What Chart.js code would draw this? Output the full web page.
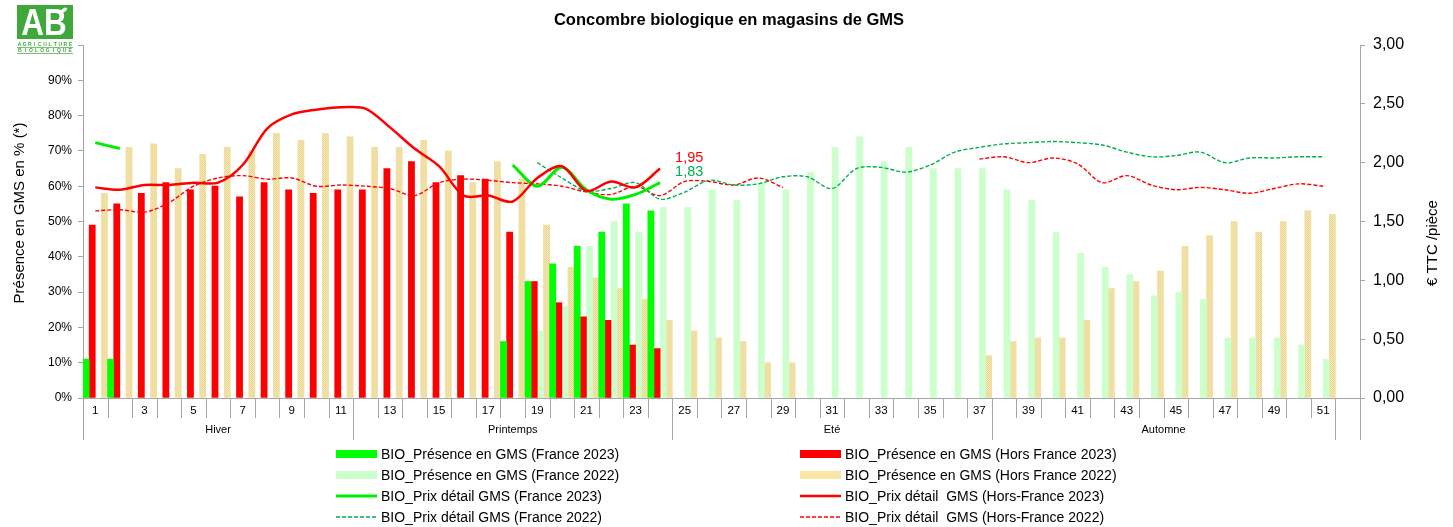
<!DOCTYPE html>
<html lang="fr">
<head>
  <meta charset="UTF-8">
  <title>Concombre biologique en magasins de GMS</title>
  <script src="https://cdn.jsdelivr.net/npm/chart.js@4.4.1/dist/chart.umd.min.js"></script>
  <style>
    html, body { margin: 0; padding: 0; background: #ffffff; }
    #wrap { position: relative; width: 1453px; height: 527px; }
  </style>
</head>
<body>
<div id="wrap"><canvas id="gmsChart"></canvas></div>
<script>
  const _ = null;

  // semaines 1..52
  const weeks = [1, 2, 3, 4, 5, 6, 7, 8, 9, 10, 11, 12, 13, 14, 15, 16, 17, 18, 19, 20, 21, 22, 23, 24, 25, 26,
                 27, 28, 29, 30, 31, 32, 33, 34, 35, 36, 37, 38, 39, 40, 41, 42, 43, 44, 45, 46, 47, 48, 49, 50, 51, 52];

  const seasonNames = ['Hiver', 'Printemps', 'Eté', 'Automne'];
  const seasonFirstWeek = [1, 12, 25, 38];
  const seasonLastWeek = [11, 24, 37, 51];

  // présence en GMS (%)
  const presenceFr2023 = [11, 11, _, _, _, _, _, _, _, _, _, _, _, _, _, _, _, 16, 33, 38, 43, 47, 55, 53, _, _,
                          _, _, _, _, _, _, _, _, _, _, _, _, _, _, _, _, _, _, _, _, _, _, _, _, _, _];
  const presenceHF2023 = [49, 55, 58, 61, 59, 60, 57, 61, 59, 58, 59, 59, 65, 67, 61, 63, 62, 47, 33, 27, 23, 22, 15, 14, _, _,
                          _, _, _, _, _, _, _, _, _, _, _, _, _, _, _, _, _, _, _, _, _, _, _, _, _, _];
  const presenceFr2022 = [_, _, _, _, _, _, _, _, _, _, _, _, _, _, _, _, _, _, 19, 26, 43, 50, 47, 54, 54, 59,
                          56, 61, 59, 64, 71, 74, 67, 71, 65, 65, 65, 59, 56, 47, 41, 37, 35, 29, 30, 28, 17, 17, 17, 15, 11, _];
  const presenceHF2022 = [58, 71, 72, 65, 69, 71, 70, 75, 73, 75, 74, 71, 71, 73, 70, 61, 67, 62, 49, 37, 34, 31, 28, 22, 19, 17,
                          16, 10, 10, _, _, _, _, _, _, _, 12, 16, 17, 17, 22, 31, 33, 36, 43, 46, 50, 47, 50, 53, 52, _];

  // prix détail (€ TTC / pièce)
  const priceFr2023 = [2.17, 2.12, _, _, _, _, _, _, _, _, _, _, _, _, _, _, _, 1.98, 1.80, 1.96, 1.77, 1.69, 1.73, 1.83, _, _,
                       _, _, _, _, _, _, _, _, _, _, _, _, _, _, _, _, _, _, _, _, _, _, _, _, _, _];
  const priceHF2023 = [1.79, 1.77, 1.81, 1.81, 1.83, 1.83, 1.98, 2.29, 2.41, 2.45, 2.47, 2.46, 2.30, 2.12, 1.97, 1.72, 1.72, 1.67,
                       1.87, 1.97, 1.76, 1.84, 1.79, 1.95, _, _, _, _, _, _, _, _, _, _, _, _, _, _, _, _, _, _, _, _, _, _, _, _, _, _, _, _];
  const priceFr2022 = [_, _, _, _, _, _, _, _, _, _, _, _, _, _, _, _, _, _, 2.00, 1.87, 1.76, 1.78, 1.83, 1.69, 1.75, 1.85,
                       1.81, 1.82, 1.88, 1.88, 1.78, 1.95, 1.96, 1.92, 1.98, 2.09, 2.13, 2.16, 2.17, 2.18, 2.17, 2.15, 2.09,
                       2.05, 2.06, 2.09, 2.00, 2.04, 2.04, 2.05, 2.05, _];
  const priceHF2022 = [1.59, 1.60, 1.58, 1.66, 1.80, 1.87, 1.89, 1.86, 1.87, 1.80, 1.81, 1.80, 1.78, 1.72, 1.83, 1.86, 1.85, 1.83,
                       1.82, 1.80, 1.75, 1.73, 1.80, 1.72, 1.84, 1.84, 1.81, 1.87, 1.79, _, _, _, _, _, _, _,
                       2.03, 2.05, 2.00, 2.04, 1.99, 1.83, 1.89, 1.81, 1.77, 1.79, 1.77, 1.74, 1.78, 1.82, 1.80, _];

  const FONT = 'Arial, "Liberation Sans", sans-serif';
  const GREY = '#a6a6a6';
  const GREEN_DARK = '#00b050';

  // dotted beige fill like the excel pattern (soft)
  function beigePattern() {
    const c = document.createElement('canvas');
    c.width = 2; c.height = 2;
    const g = c.getContext('2d');
    g.fillStyle = '#f5e6b0';
    g.fillRect(0, 0, 2, 2);
    g.fillStyle = '#ecd896';
    g.fillRect(0, 0, 1, 1);
    g.fillRect(1, 1, 1, 1);
    return g.createPattern(c, 'repeat');
  }
  const BEIGE = beigePattern();
  const BEIGE_LEGEND = '#fbe5a6';

  const legendRows = [[0, 1], [2, 3], [4, 5], [6, 7]];
  const endLabels = [
    { dataset: 5, color: '#ff0000' },
    { dataset: 4, color: GREEN_DARK }
  ];

  function crisp(v) { return Math.round(v) + 0.5; }

  function weekLeftEdge(scale, w) {
    const step = scale.getPixelForValue(1) - scale.getPixelForValue(0);
    return scale.getPixelForValue(w - 1) - step / 2;
  }

  function strokeLine(ctx, x1, y1, x2, y2) {
    ctx.beginPath();
    ctx.moveTo(x1, y1);
    ctx.lineTo(x2, y2);
    ctx.stroke();
  }

  function drawLogo(ctx) {
    ctx.save();
    ctx.fillStyle = '#3ea83a';
    ctx.fillRect(17, 5, 56, 34);
    ctx.fillStyle = '#ffffff';
    ctx.font = 'bold 30px ' + FONT;
    ctx.textAlign = 'center';
    ctx.textBaseline = 'alphabetic';
    ctx.save();
    ctx.translate(44, 35);
    ctx.scale(1.05, 1.2);
    ctx.fillText('AB', 0, 0);
    ctx.restore();
    // petite feuille
    ctx.beginPath();
    ctx.ellipse(64, 10, 3.5, 1.8, -0.6, 0, Math.PI * 2);
    ctx.fill();
    ctx.fillStyle = '#3ea83a';
    ctx.font = 'bold 5px ' + FONT;
    ['AGRICULTURE', 'BIOLOGIQUE'].forEach((word, r) => {
      const step = 56 / word.length;
      for (let k = 0; k < word.length; k++) {
        ctx.fillText(word[k], 17 + step * (k + 0.5), 46 + r * 6);
      }
    });
    ctx.strokeStyle = '#3ea83a';
    ctx.lineWidth = 0.7;
    strokeLine(ctx, 17, 47.5, 73, 47.5);
    strokeLine(ctx, 17, 53.5, 73, 53.5);
    ctx.restore();
  }

  const gmsDecor = {
    id: 'gmsDecor',
    afterDatasetsDraw(chart) {
      const ctx = chart.ctx;
      ctx.save();
      ctx.font = '14.5px ' + FONT;
      ctx.textAlign = 'left';
      ctx.textBaseline = 'middle';
      endLabels.forEach(lbl => {
        const data = chart.data.datasets[lbl.dataset].data;
        let i = data.length - 1;
        while (i >= 0 && data[i] == null) i--;
        const pt = chart.getDatasetMeta(lbl.dataset).data[i];
        ctx.fillStyle = lbl.color;
        ctx.fillText(data[i].toFixed(2).replace('.', ','), pt.x + 15, pt.y - 11);
      });
      ctx.restore();
    },
    afterDraw(chart) {
      const ctx = chart.ctx;
      const x = chart.scales.x;
      const area = chart.chartArea;
      ctx.save();

      // séparateurs semaines
      ctx.strokeStyle = GREY;
      ctx.lineWidth = 1;
      for (let w = 2; w <= weeks.length; w++) {
        const px = crisp(weekLeftEdge(x, w));
        strokeLine(ctx, px, area.bottom, px, area.bottom + 20);
      }
      // saisons
      ctx.fillStyle = '#000000';
      ctx.font = '11px ' + FONT;
      ctx.textAlign = 'center';
      ctx.textBaseline = 'middle';
      seasonNames.forEach((name, s) => {
        const left = weekLeftEdge(x, seasonFirstWeek[s]);
        const right = weekLeftEdge(x, seasonLastWeek[s] + 1);
        strokeLine(ctx, crisp(left), area.bottom, crisp(left), area.bottom + 42);
        strokeLine(ctx, crisp(right), area.bottom, crisp(right), area.bottom + 42);
        ctx.fillText(name, (left + right) / 2, area.bottom + 32);
      });
      strokeLine(ctx, crisp(area.right), area.bottom, crisp(area.right), area.bottom + 42);

      // titres
      ctx.font = 'bold 16.5px ' + FONT;
      ctx.fillText('Concombre biologique en magasins de GMS', 729, 20);

      ctx.font = '15px ' + FONT;
      ctx.save();
      ctx.translate(20, 213);
      ctx.rotate(-Math.PI / 2);
      ctx.fillText('Présence en GMS en % (*)', 0, 0);
      ctx.restore();
      ctx.save();
      ctx.translate(1433, 243);
      ctx.rotate(-Math.PI / 2);
      ctx.fillText('€ TTC /pièce', 0, 0);
      ctx.restore();

      // légende
      ctx.font = '14px ' + FONT;
      ctx.textAlign = 'left';
      const colSwatch = [336, 800];
      legendRows.forEach((row, r) => {
        const cy = 454 + r * 21;
        row.forEach((di, c) => {
          const ds = chart.data.datasets[di];
          const sx = colSwatch[c];
          if (ds.type === 'line') {
            ctx.strokeStyle = ds.borderColor;
            ctx.lineWidth = ds.borderWidth;
            ctx.setLineDash(ds.borderDash || []);
            strokeLine(ctx, sx, cy, sx + 41, cy);
            ctx.setLineDash([]);
          } else {
            ctx.fillStyle = ds.backgroundColor === BEIGE ? BEIGE_LEGEND : ds.backgroundColor;
            ctx.fillRect(sx, cy - 4, 41, 8);
          }
          ctx.fillStyle = '#000000';
          ctx.fillText(ds.label, sx + 45, cy + 1);
        });
      });

      drawLogo(ctx);
      ctx.restore();
    }
  };

  const lineBase = { type: 'line', yAxisID: 'y1', pointRadius: 0, fill: false, spanGaps: false, tension: 0.32 };

  new Chart(document.getElementById('gmsChart'), {
    data: {
      labels: weeks,
      datasets: [
        { type: 'bar', label: 'BIO_Présence en GMS (France 2023)', data: presenceFr2023, backgroundColor: '#00ff00', yAxisID: 'y', order: 5 },
        { type: 'bar', label: 'BIO_Présence en GMS (Hors France 2023)', data: presenceHF2023, backgroundColor: '#ff0000', yAxisID: 'y', order: 5 },
        { type: 'bar', label: 'BIO_Présence en GMS (France 2022)', data: presenceFr2022, backgroundColor: '#ccffcc', yAxisID: 'y', order: 5 },
        { type: 'bar', label: 'BIO_Présence en GMS (Hors France 2022)', data: presenceHF2022, backgroundColor: BEIGE, yAxisID: 'y', order: 5 },
        { ...lineBase, label: 'BIO_Prix détail GMS (France 2023)', data: priceFr2023, borderColor: '#00ee00', borderWidth: 3, order: 1 },
        { ...lineBase, label: 'BIO_Prix détail  GMS (Hors-France 2023)', data: priceHF2023, borderColor: '#ff0000', borderWidth: 2.5, order: 0 },
        { ...lineBase, label: 'BIO_Prix détail GMS (France 2022)', data: priceFr2022, borderColor: GREEN_DARK, borderWidth: 1.4, borderDash: [4, 2], order: 2 },
        { ...lineBase, label: 'BIO_Prix détail  GMS (Hors-France 2022)', data: priceHF2022, borderColor: '#ff0000', borderWidth: 1.4, borderDash: [4, 2], order: 2 }
      ]
    },
    options: {
      responsive: true,
      maintainAspectRatio: false,
      animation: false,
      datasets: { bar: { barPercentage: 1, categoryPercentage: 1 } },
      layout: { padding: { top: 45, bottom: 87, left: 0, right: 0 } },
      plugins: {
        legend: { display: false },
        title: { display: false },
        tooltip: { enabled: false }
      },
      scales: {
        x: {
          type: 'category',
          afterFit(scale) { scale.height = 42; },
          grid: { display: false, drawTicks: false },
          border: { display: true, color: GREY },
          ticks: {
            autoSkip: false,
            maxRotation: 0,
            padding: 6,
            color: '#000000',
            font: { family: FONT, size: 11.5 },
            callback(v, i) { return weeks[i] % 2 === 1 ? String(weeks[i]) : ''; }
          }
        },
        y: {
          position: 'left',
          min: 0,
          max: 100,
          afterFit(scale) { scale.width = 83; },
          grid: { drawOnChartArea: false, color: GREY, tickLength: 5 },
          border: { display: true, color: GREY },
          ticks: {
            stepSize: 10,
            padding: 6,
            color: '#000000',
            font: { family: FONT, size: 12 },
            callback(v) { return v >= 100 ? '' : v + '%'; }
          }
        },
        y1: {
          position: 'right',
          min: 0,
          max: 3,
          afterFit(scale) { scale.width = 93; },
          grid: { drawOnChartArea: false, color: GREY, tickLength: 5 },
          border: { display: true, color: GREY },
          ticks: {
            stepSize: 0.5,
            padding: 8,
            color: '#000000',
            font: { family: FONT, size: 16 },
            callback(v) { return v.toFixed(2).replace('.', ','); }
          }
        }
      }
    },
    plugins: [gmsDecor]
  });
</script>
</body>
</html>
